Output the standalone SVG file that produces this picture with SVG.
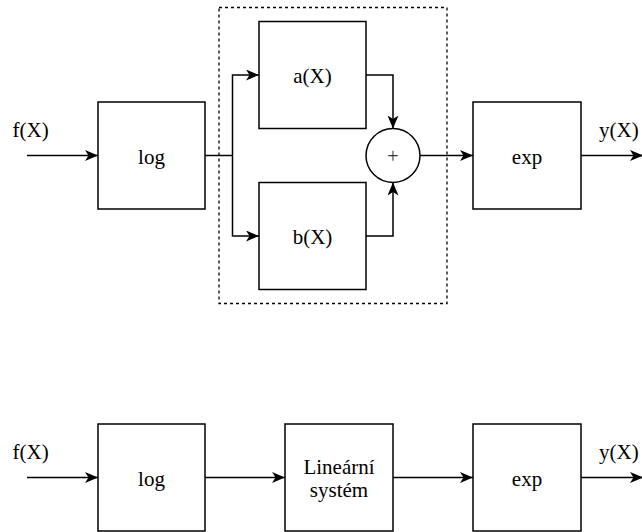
<svg xmlns="http://www.w3.org/2000/svg" width="642" height="532" viewBox="0 0 642 532" font-family="'Liberation Serif', 'Times New Roman', Times, serif">
  <style>
    .box { fill: #ffffff; stroke: #000000; stroke-width: 1.5; }
    .wire { fill: none; stroke: #000000; stroke-width: 1.5; }
    .arrow { marker-end: url(#head); }
    .frame { fill: none; stroke: #000000; stroke-width: 1.3; stroke-dasharray: 3 3; }
    text { font-family: 'Liberation Serif', 'Times New Roman', Times, serif; }
    .lbl { font-size: 21px; fill: #000000; }
    .mid { text-anchor: middle; }
    .plus { font-size: 20px; fill: #333333; text-anchor: middle; }
  </style>
  <defs>
    <!-- notched block arrowhead shared by all connectors -->
    <marker id="head" markerUnits="userSpaceOnUse" markerWidth="14" markerHeight="12" refX="13" refY="5.5" orient="auto">
      <path d="M0,0 L13,5.5 L0,11 L3.5,5.5 Z" fill="#000000"/>
    </marker>
  </defs>
  <rect width="642" height="532" fill="#ffffff"/>

  <!-- dashed frame around the linear part -->
  <rect class="frame" x="219" y="7.5" width="228" height="296"/>

  <!-- top chain -->
  <g id="log-top">
    <rect class="box" x="98" y="102" width="107" height="107"/>
    <text class="lbl mid" x="151.5" y="163.5">log</text>
  </g>
  <g id="a-block">
    <rect class="box" x="259" y="21.5" width="107" height="107"/>
    <text class="lbl mid" x="312.5" y="83">a(X)</text>
  </g>
  <g id="b-block">
    <rect class="box" x="259" y="182.5" width="107" height="107"/>
    <text class="lbl mid" x="312.5" y="244">b(X)</text>
  </g>
  <g id="sum">
    <circle class="box" cx="393" cy="155.5" r="27"/>
    <text class="plus" x="393" y="162.5">+</text>
  </g>
  <g id="exp-top">
    <rect class="box" x="473" y="102" width="108" height="107"/>
    <text class="lbl mid" x="527" y="163.5">exp</text>
  </g>

  <!-- bottom chain -->
  <g id="log-bottom">
    <rect class="box" x="98" y="424" width="107" height="107"/>
    <text class="lbl mid" x="151.5" y="485.5">log</text>
  </g>
  <g id="linear-system">
    <rect class="box" x="285" y="424" width="108" height="107"/>
    <text class="lbl mid" x="339" y="473.5">Lineární</text>
    <text class="lbl mid" x="339" y="497">systém</text>
  </g>
  <g id="exp-bottom">
    <rect class="box" x="473" y="424" width="108" height="107"/>
    <text class="lbl mid" x="527" y="485.5">exp</text>
  </g>

  <!-- signal labels -->
  <g id="signals">
    <text class="lbl" x="12.5" y="137">f(X)</text>
    <text class="lbl" x="599" y="137">y(X)</text>
    <text class="lbl" x="12.5" y="459">f(X)</text>
    <text class="lbl" x="599" y="459">y(X)</text>
  </g>

  <!-- connectors -->
  <g id="connectors">
    <path class="wire arrow" d="M27,155.5 H98"/>
    <path class="wire" d="M205,155.5 H232.5"/>
    <path class="wire arrow" d="M232.5,155.5 V75 H259"/>
    <path class="wire arrow" d="M232.5,155.5 V236 H259"/>
    <path class="wire arrow" d="M366,75 H393 V128.5"/>
    <path class="wire arrow" d="M366,236 H393 V182.5"/>
    <path class="wire arrow" d="M420,155.5 H473"/>
    <path class="wire arrow" d="M581,155.5 H643"/>

    <path class="wire arrow" d="M27,477.5 H98"/>
    <path class="wire arrow" d="M205,477.5 H285"/>
    <path class="wire arrow" d="M393,477.5 H473"/>
    <path class="wire arrow" d="M581,477.5 H643"/>
  </g>
</svg>
